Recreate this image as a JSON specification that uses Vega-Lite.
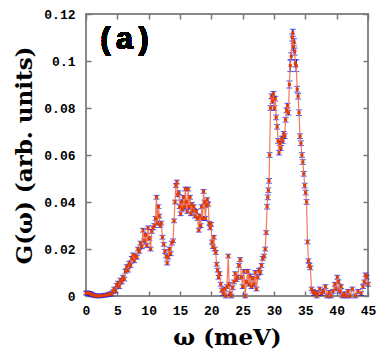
{
 "$schema": "https://vega.github.io/schema/vega-lite/v6.json",
 "width": 282, "height": 282,
 "autosize": "none",
 "padding": {"left": 86, "top": 14, "right": 14, "bottom": 57},
 "background": "white",
 "config": {
  "view": {"stroke": "#888888", "strokeWidth": 2},
  "axis": {"grid": false, "tickColor": "#777777", "tickWidth": 1.5, "tickSize": -5, "labelFont": "Liberation Mono", "labelFontWeight": "bold", "labelFontSize": 13, "labelColor": "#000000", "titleColor": "#000000", "domain": false}
 },
 "data": {"values": [
  {"w":0.0,"g":0.0012,"e":0.0008},{"w":0.2,"g":0.0013,"e":0.0008},{"w":0.4,"g":0.0012,"e":0.0008},{"w":0.6,"g":0.0011,"e":0.0008},{"w":0.8,"g":0.0008,"e":0.0008},{"w":1.0,"g":0.0006,"e":0.0008},{"w":1.3,"g":0.0002,"e":0.0008},{"w":1.6,"g":0.0001,"e":0.0008},{"w":2.0,"g":0.0,"e":0.0008},{"w":2.4,"g":0.0001,"e":0.0008},{"w":2.8,"g":0.0002,"e":0.0008},{"w":3.2,"g":0.0004,"e":0.0008},{"w":3.6,"g":0.0006,"e":0.0008},{"w":3.9,"g":0.001,"e":0.0008},
  {"w":4.1,"g":0.0008,"e":0.0008},{"w":4.3,"g":0.0018,"e":0.0008},{"w":4.5,"g":0.003,"e":0.0008},{"w":4.7,"g":0.0022,"e":0.0008},{"w":4.9,"g":0.0045,"e":0.0008},{"w":5.1,"g":0.0055,"e":0.0008},{"w":5.3,"g":0.004,"e":0.0008},{"w":5.5,"g":0.0068,"e":0.0008},{"w":5.7,"g":0.006,"e":0.0008},{"w":5.9,"g":0.008,"e":0.0008},{"w":6.1,"g":0.0072,"e":0.0008},{"w":6.3,"g":0.0105,"e":0.0008},{"w":6.5,"g":0.0125,"e":0.0008},{"w":6.7,"g":0.011,"e":0.0008},{"w":6.9,"g":0.014,"e":0.0008},{"w":7.1,"g":0.013,"e":0.0008},{"w":7.3,"g":0.016,"e":0.0008},{"w":7.5,"g":0.0175,"e":0.0008},{"w":7.7,"g":0.015,"e":0.0008},{"w":7.9,"g":0.017,"e":0.0008},{"w":8.1,"g":0.0165,"e":0.0008},{"w":8.3,"g":0.02,"e":0.0008},{"w":8.5,"g":0.019,"e":0.0008},{"w":8.7,"g":0.0225,"e":0.0008},{"w":8.9,"g":0.021,"e":0.0008},{"w":9.1,"g":0.028,"e":0.0008},{"w":9.3,"g":0.0235,"e":0.0008},{"w":9.5,"g":0.026,"e":0.0008},{"w":9.7,"g":0.0215,"e":0.0008},{"w":9.9,"g":0.029,"e":0.0008},{"w":10.1,"g":0.0245,"e":0.0008},{"w":10.3,"g":0.02,"e":0.0008},{"w":10.5,"g":0.0275,"e":0.0008},{"w":10.7,"g":0.029,"e":0.0008},{"w":10.9,"g":0.03,"e":0.0008},{"w":11.1,"g":0.033,"e":0.0008},{"w":11.25,"g":0.042,"e":0.0008},{"w":11.4,"g":0.031,"e":0.0008},{"w":11.55,"g":0.038,"e":0.0008},{"w":11.7,"g":0.034,"e":0.0008},{"w":11.85,"g":0.03,"e":0.0008},{"w":12.0,"g":0.031,"e":0.0008},{"w":12.2,"g":0.025,"e":0.0008},{"w":12.4,"g":0.022,"e":0.0008},{"w":12.6,"g":0.019,"e":0.0008},{"w":12.8,"g":0.017,"e":0.0008},{"w":12.95,"g":0.014,"e":0.0008},{"w":13.1,"g":0.0165,"e":0.0008},{"w":13.3,"g":0.02,"e":0.0008},{"w":13.5,"g":0.018,"e":0.0008},{"w":13.7,"g":0.0225,"e":0.0008},{"w":13.9,"g":0.0235,"e":0.0008},{"w":14.05,"g":0.032,"e":0.0008},{"w":14.2,"g":0.04,"e":0.0008},{"w":14.35,"g":0.047,"e":0.0008},{"w":14.5,"g":0.0485,"e":0.0008},{"w":14.65,"g":0.043,"e":0.0008},{"w":14.8,"g":0.044,"e":0.0008},{"w":14.95,"g":0.038,"e":0.0008},{"w":15.1,"g":0.035,"e":0.0008},{"w":15.25,"g":0.04,"e":0.0008},{"w":15.4,"g":0.037,"e":0.0008},{"w":15.55,"g":0.042,"e":0.0008},{"w":15.7,"g":0.038,"e":0.0008},{"w":15.85,"g":0.0455,"e":0.0008},{"w":16.0,"g":0.04,"e":0.0008},{"w":16.15,"g":0.036,"e":0.0008},{"w":16.3,"g":0.0455,"e":0.0008},{"w":16.45,"g":0.038,"e":0.0008},{"w":16.6,"g":0.042,"e":0.0008},{"w":16.75,"g":0.035,"e":0.0008},{"w":16.9,"g":0.039,"e":0.0008},{"w":17.05,"g":0.0365,"e":0.0008},{"w":17.2,"g":0.038,"e":0.0008},{"w":17.4,"g":0.034,"e":0.0008},{"w":17.6,"g":0.036,"e":0.0008},{"w":17.8,"g":0.033,"e":0.0008},{"w":18.0,"g":0.028,"e":0.0008},{"w":18.15,"g":0.034,"e":0.0008},{"w":18.3,"g":0.03,"e":0.0008},{"w":18.45,"g":0.038,"e":0.0008},{"w":18.6,"g":0.033,"e":0.0008},{"w":18.75,"g":0.0445,"e":0.0008},{"w":18.9,"g":0.04,"e":0.0008},{"w":19.05,"g":0.033,"e":0.0008},{"w":19.2,"g":0.0385,"e":0.0008},{"w":19.35,"g":0.041,"e":0.0008},{"w":19.5,"g":0.039,"e":0.0008},{"w":19.65,"g":0.031,"e":0.0008},{"w":19.8,"g":0.029,"e":0.0008},{"w":19.95,"g":0.0305,"e":0.0008},{"w":20.1,"g":0.023,"e":0.0008},{"w":20.25,"g":0.021,"e":0.0008},{"w":20.4,"g":0.025,"e":0.0008},{"w":20.55,"g":0.02,"e":0.0008},{"w":20.7,"g":0.0185,"e":0.0008},{"w":20.85,"g":0.0135,"e":0.0008},{"w":21.0,"g":0.011,"e":0.0008},{"w":21.15,"g":0.008,"e":0.0008},{"w":21.3,"g":0.0095,"e":0.0008},{"w":21.5,"g":0.005,"e":0.0008},{"w":21.7,"g":0.0025,"e":0.0008},{"w":21.9,"g":0.001,"e":0.0008},{"w":22.1,"g":0.003,"e":0.0008},{"w":22.3,"g":0.0,"e":0.0008},{"w":22.5,"g":0.004,"e":0.0008},{"w":22.7,"g":0.017,"e":0.0008},{"w":22.85,"g":0.005,"e":0.0008},{"w":23.0,"g":0.001,"e":0.0008},{"w":23.2,"g":0.0,"e":0.0008},{"w":23.4,"g":0.0035,"e":0.0008},{"w":23.6,"g":0.006,"e":0.0008},{"w":23.8,"g":0.0095,"e":0.0008},{"w":24.0,"g":0.007,"e":0.0008},{"w":24.2,"g":0.008,"e":0.0008},{"w":24.4,"g":0.013,"e":0.0008},{"w":24.6,"g":0.0155,"e":0.0008},{"w":24.8,"g":0.008,"e":0.0008},{"w":25.0,"g":0.004,"e":0.0008},{"w":25.2,"g":0.0105,"e":0.0008},{"w":25.4,"g":0.0,"e":0.0008},{"w":25.6,"g":0.006,"e":0.0008},{"w":25.8,"g":0.0105,"e":0.0008},{"w":26.0,"g":0.005,"e":0.0008},{"w":26.2,"g":0.0085,"e":0.0008},{"w":26.4,"g":0.004,"e":0.0008},{"w":26.6,"g":0.0075,"e":0.0008},{"w":26.8,"g":0.005,"e":0.0008},{"w":27.0,"g":0.01,"e":0.0008},{"w":27.2,"g":0.003,"e":0.0008},{"w":27.4,"g":0.008,"e":0.0008},{"w":27.6,"g":0.011,"e":0.0008},{"w":27.8,"g":0.01,"e":0.0008},{"w":28.0,"g":0.013,"e":0.0008},{"w":28.2,"g":0.016,"e":0.0008},{"w":28.4,"g":0.017,"e":0.0008},{"w":28.6,"g":0.02,"e":0.0008},{"w":28.75,"g":0.027,"e":0.0008},{"w":28.9,"g":0.038,"e":0.001},{"w":29.0,"g":0.042,"e":0.001},{"w":29.1,"g":0.045,"e":0.001},{"w":29.2,"g":0.049,"e":0.001},{"w":29.3,"g":0.06,"e":0.001},{"w":29.45,"g":0.08,"e":0.001},{"w":29.6,"g":0.085,"e":0.001},{"w":29.75,"g":0.083,"e":0.001},{"w":29.9,"g":0.086,"e":0.001},{"w":30.05,"g":0.08,"e":0.001},{"w":30.2,"g":0.084,"e":0.001},{"w":30.35,"g":0.076,"e":0.001},{"w":30.5,"g":0.072,"e":0.001},{"w":30.65,"g":0.066,"e":0.001},{"w":30.8,"g":0.061,"e":0.001},{"w":30.95,"g":0.065,"e":0.001},{"w":31.1,"g":0.063,"e":0.001},{"w":31.25,"g":0.067,"e":0.001},{"w":31.4,"g":0.066,"e":0.001},{"w":31.55,"g":0.069,"e":0.001},{"w":31.7,"g":0.068,"e":0.001},{"w":31.85,"g":0.075,"e":0.001},{"w":32.0,"g":0.079,"e":0.001},{"w":32.15,"g":0.081,"e":0.001},{"w":32.3,"g":0.078,"e":0.001},{"w":32.45,"g":0.09,"e":0.0015},{"w":32.6,"g":0.098,"e":0.0025},{"w":32.75,"g":0.102,"e":0.0015},{"w":32.9,"g":0.11,"e":0.0015},{"w":33.0,"g":0.112,"e":0.0015},{"w":33.1,"g":0.106,"e":0.0015},{"w":33.2,"g":0.108,"e":0.0015},{"w":33.3,"g":0.104,"e":0.0015},{"w":33.4,"g":0.099,"e":0.0015},{"w":33.55,"g":0.098,"e":0.0025},{"w":33.7,"g":0.088,"e":0.0012},{"w":33.85,"g":0.085,"e":0.0012},{"w":34.0,"g":0.078,"e":0.0012},{"w":34.15,"g":0.068,"e":0.001},{"w":34.3,"g":0.065,"e":0.001},{"w":34.45,"g":0.06,"e":0.001},{"w":34.6,"g":0.057,"e":0.001},{"w":34.75,"g":0.052,"e":0.001},{"w":34.9,"g":0.047,"e":0.001},{"w":35.05,"g":0.044,"e":0.001},{"w":35.2,"g":0.04,"e":0.001},{"w":35.35,"g":0.023,"e":0.0008},{"w":35.5,"g":0.015,"e":0.0008},{"w":35.65,"g":0.013,"e":0.0008},{"w":35.8,"g":0.012,"e":0.0008},{"w":36.0,"g":0.003,"e":0.0008},{"w":36.2,"g":0.002,"e":0.0008},{"w":36.4,"g":0.001,"e":0.0008},{"w":36.6,"g":0.0015,"e":0.0008},{"w":36.8,"g":0.0,"e":0.0008},{"w":37.0,"g":0.001,"e":0.0008},{"w":37.3,"g":0.003,"e":0.0008},{"w":37.6,"g":0.001,"e":0.0008},{"w":37.9,"g":0.002,"e":0.0008},{"w":38.2,"g":0.004,"e":0.0008},{"w":38.5,"g":0.0,"e":0.0008},{"w":38.8,"g":0.0015,"e":0.0008},{"w":39.1,"g":0.0,"e":0.0008},{"w":39.4,"g":0.002,"e":0.0008},{"w":39.7,"g":0.005,"e":0.0008},{"w":39.9,"g":0.003,"e":0.0008},{"w":40.1,"g":0.008,"e":0.0008},{"w":40.3,"g":0.006,"e":0.0008},{"w":40.5,"g":0.002,"e":0.0008},{"w":40.7,"g":0.004,"e":0.0008},{"w":40.9,"g":0.0,"e":0.0008},{"w":41.2,"g":0.001,"e":0.0008},{"w":41.5,"g":0.0,"e":0.0008},{"w":41.8,"g":0.002,"e":0.0008},{"w":42.1,"g":0.0,"e":0.0008},{"w":42.5,"g":0.003,"e":0.0008},{"w":43.0,"g":0.0,"e":0.0008},{"w":43.4,"g":0.002,"e":0.0008},{"w":43.9,"g":0.001,"e":0.0008},{"w":44.2,"g":0.004,"e":0.0008},{"w":44.4,"g":0.006,"e":0.0008},{"w":44.6,"g":0.009,"e":0.0008},{"w":44.8,"g":0.008,"e":0.0008},{"w":45.0,"g":0.005,"e":0.0008}
 ]},
 "resolve": {"axis": {"x": "independent", "y": "independent"}},
 "layer": [
  {"mark": {"type": "errorbar", "color": "#1414e6", "ticks": {"size": 6, "color": "#1414e6", "strokeWidth": 2}, "rule": {"color": "#1414e6", "strokeWidth": 1.5}},
   "encoding": {
    "x": {"field": "w", "type": "quantitative", "scale": {"domain": [0, 45], "nice": false, "zero": false},
          "axis": {"orient": "bottom", "values": [0,5,10,15,20,25,30,35,40,45], "title": "ω (meV)", "titleFont": "DejaVu Serif", "titleFontSize": 23, "titleFontWeight": "bold", "titleX": 141, "titleY": 41, "titleBaseline": "middle", "titleAlign": "center", "labelPadding": 13, "labelFlush": false}},
    "y": {"field": "g", "type": "quantitative", "scale": {"domain": [0, 0.12], "nice": false},
          "axis": {"orient": "left", "values": [0,0.02,0.04,0.06,0.08,0.1,0.12], "format": ".2~f", "title": "G(ω) (arb. units)", "titleFont": "DejaVu Serif", "titleFontSize": 23, "titleFontWeight": "bold", "titleX": -62, "titleY": 141, "titleAngle": -90, "titleBaseline": "middle", "titleAlign": "center", "labelPadding": 16, "labelFlush": false}},
    "yError": {"field": "e"}}},
  {"mark": {"type": "line", "color": "#f07a5a", "strokeWidth": 1.2},
   "encoding": {
    "x": {"field": "w", "type": "quantitative", "axis": {"orient": "top", "values": [0,5,10,15,20,25,30,35,40,45], "labels": false, "title": null}},
    "y": {"field": "g", "type": "quantitative", "axis": {"orient": "right", "values": [0,0.02,0.04,0.06,0.08,0.1,0.12], "labels": false, "title": null}}}},
  {"mark": {"type": "point", "filled": true, "shape": "square", "size": 10, "color": "#e23c00", "opacity": 1},
   "encoding": {
    "x": {"field": "w", "type": "quantitative", "axis": null},
    "y": {"field": "g", "type": "quantitative", "axis": null}}},
  {"mark": {"type": "text", "text": "(a)", "font": "Liberation Mono", "fontWeight": "bold", "fontSize": 31, "align": "left", "baseline": "middle", "color": "#000000"},
   "encoding": {"x": {"datum": 1.7, "type": "quantitative", "axis": null}, "y": {"datum": 0.109, "type": "quantitative", "axis": null}}}
 ]
}
